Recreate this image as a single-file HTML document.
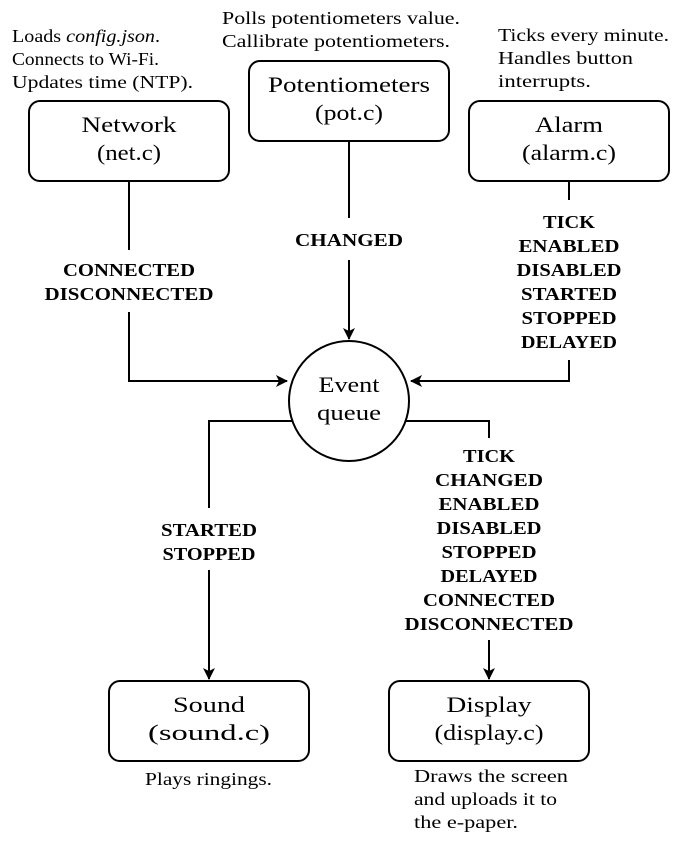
<!DOCTYPE html>
<html><head><meta charset="utf-8"><style>
html,body{margin:0;padding:0;background:#fff}
svg{display:block}
text{font-family:"Liberation Serif",serif;fill:#000}
.n{font-size:22px}
.a{font-size:18px}
.b{font-size:18px;font-weight:bold}
</style></head><body>
<svg width="690" height="842" viewBox="0 0 690 842" xmlns="http://www.w3.org/2000/svg">
<defs><marker id="ar" markerWidth="12" markerHeight="12" refX="11" refY="6" orient="auto" markerUnits="userSpaceOnUse"><path d="M0,0 L12,6 L0,12 L3,6 Z" fill="#000"/></marker></defs>
<g fill="none" stroke="#000" stroke-width="2">
<rect x="29" y="101" width="200" height="80" rx="11"/>
<rect x="249" y="61" width="200" height="80" rx="11"/>
<rect x="469" y="101" width="200" height="80" rx="11"/>
<rect x="109" y="681" width="200" height="80" rx="11"/>
<rect x="389" y="681" width="200" height="80" rx="11"/>
<circle cx="349" cy="401" r="60"/>
<path d="M129,181 V250 M129,312 V381 H287" marker-end="url(#ar)"/>
<path d="M349,141 V218 M349,260 V339" marker-end="url(#ar)"/>
<path d="M569,181 V200 M569,360 V381 H411" marker-end="url(#ar)"/>
<path d="M292,421 H209 V508 M209,570 V679" marker-end="url(#ar)"/>
<path d="M406,421 H489 V438 M489,640 V679" marker-end="url(#ar)"/>
</g>
<g text-anchor="middle" lengthAdjust="spacingAndGlyphs">
<text class="n" x="129" y="132" textLength="95" lengthAdjust="spacingAndGlyphs">Network</text><text class="n" x="129" y="160" textLength="64" lengthAdjust="spacingAndGlyphs">(net.c)</text>
<text class="n" x="349" y="92" textLength="162" lengthAdjust="spacingAndGlyphs">Potentiometers</text><text class="n" x="349" y="120" textLength="68" lengthAdjust="spacingAndGlyphs">(pot.c)</text>
<text class="n" x="569" y="132" textLength="68" lengthAdjust="spacingAndGlyphs">Alarm</text><text class="n" x="569" y="160" textLength="94" lengthAdjust="spacingAndGlyphs">(alarm.c)</text>
<text class="n" x="209" y="712" textLength="72" lengthAdjust="spacingAndGlyphs">Sound</text><text class="n" x="209" y="740" textLength="122" lengthAdjust="spacingAndGlyphs">(sound.c)</text>
<text class="n" x="489" y="712" textLength="85" lengthAdjust="spacingAndGlyphs">Display</text><text class="n" x="489" y="740" textLength="109" lengthAdjust="spacingAndGlyphs">(display.c)</text>
<text class="n" x="349" y="392" textLength="61" lengthAdjust="spacingAndGlyphs">Event</text><text class="n" x="349" y="420" textLength="64" lengthAdjust="spacingAndGlyphs">queue</text>
<text class="b" x="129" y="276" textLength="132" lengthAdjust="spacingAndGlyphs">CONNECTED</text><text class="b" x="129" y="300" textLength="169" lengthAdjust="spacingAndGlyphs">DISCONNECTED</text>
<text class="b" x="349" y="246" textLength="108" lengthAdjust="spacingAndGlyphs">CHANGED</text>
<text class="b" x="569" y="228" textLength="52" lengthAdjust="spacingAndGlyphs">TICK</text><text class="b" x="569" y="252" textLength="101" lengthAdjust="spacingAndGlyphs">ENABLED</text><text class="b" x="569" y="276" textLength="105" lengthAdjust="spacingAndGlyphs">DISABLED</text><text class="b" x="569" y="300" textLength="96" lengthAdjust="spacingAndGlyphs">STARTED</text><text class="b" x="569" y="324" textLength="95" lengthAdjust="spacingAndGlyphs">STOPPED</text><text class="b" x="569" y="348" textLength="96" lengthAdjust="spacingAndGlyphs">DELAYED</text>
<text class="b" x="209" y="536" textLength="96" lengthAdjust="spacingAndGlyphs">STARTED</text><text class="b" x="209" y="560" textLength="93" lengthAdjust="spacingAndGlyphs">STOPPED</text>
<text class="b" x="489" y="462" textLength="52" lengthAdjust="spacingAndGlyphs">TICK</text><text class="b" x="489" y="486" textLength="108" lengthAdjust="spacingAndGlyphs">CHANGED</text><text class="b" x="489" y="510" textLength="101" lengthAdjust="spacingAndGlyphs">ENABLED</text><text class="b" x="489" y="534" textLength="105" lengthAdjust="spacingAndGlyphs">DISABLED</text><text class="b" x="489" y="558" textLength="95" lengthAdjust="spacingAndGlyphs">STOPPED</text><text class="b" x="489" y="582" textLength="97" lengthAdjust="spacingAndGlyphs">DELAYED</text><text class="b" x="489" y="606" textLength="132" lengthAdjust="spacingAndGlyphs">CONNECTED</text><text class="b" x="489" y="630" textLength="169" lengthAdjust="spacingAndGlyphs">DISCONNECTED</text>
</g>
<g>
<text class="a" x="12" y="42" textLength="148" lengthAdjust="spacingAndGlyphs">Loads <tspan font-style="italic">config.json</tspan>.</text>
<text class="a" x="12" y="65" textLength="147" lengthAdjust="spacingAndGlyphs">Connects to Wi-Fi.</text>
<text class="a" x="12" y="88" textLength="181" lengthAdjust="spacingAndGlyphs">Updates time (NTP).</text>
<text class="a" x="222" y="24" textLength="238" lengthAdjust="spacingAndGlyphs">Polls potentiometers value.</text>
<text class="a" x="222" y="47" textLength="228" lengthAdjust="spacingAndGlyphs">Callibrate potentiometers.</text>
<text class="a" x="498" y="41" textLength="171" lengthAdjust="spacingAndGlyphs">Ticks every minute.</text>
<text class="a" x="498" y="64" textLength="135" lengthAdjust="spacingAndGlyphs">Handles button</text>
<text class="a" x="498" y="87" textLength="93" lengthAdjust="spacingAndGlyphs">interrupts.</text>
<text class="a" x="145" y="785" textLength="127" lengthAdjust="spacingAndGlyphs">Plays ringings.</text>
<text class="a" x="414" y="782" textLength="154" lengthAdjust="spacingAndGlyphs">Draws the screen</text>
<text class="a" x="414" y="805" textLength="143" lengthAdjust="spacingAndGlyphs">and uploads it to</text>
<text class="a" x="414" y="828" textLength="104" lengthAdjust="spacingAndGlyphs">the e-paper.</text>
</g>
</svg>
</body></html>
